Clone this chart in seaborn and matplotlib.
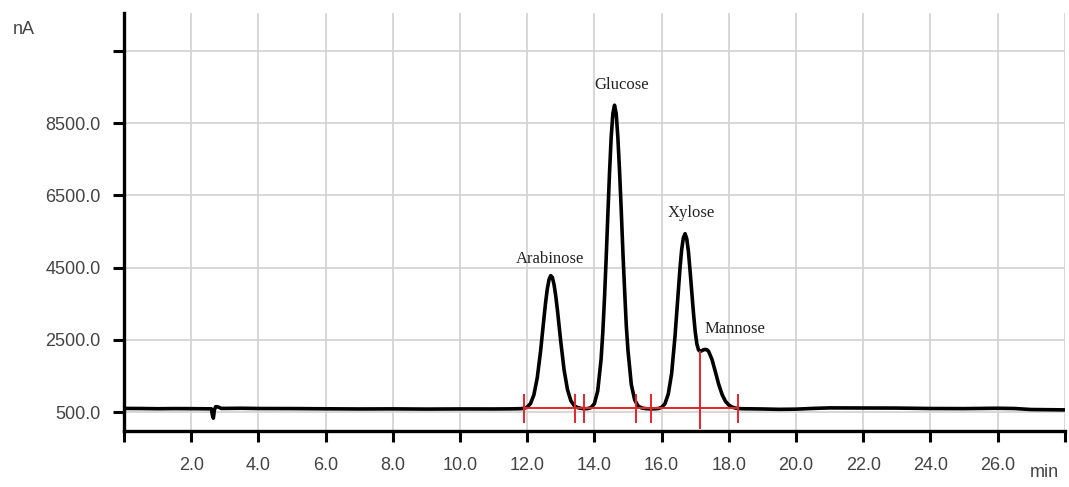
import matplotlib
matplotlib.use("Agg")
import matplotlib.pyplot as plt
import seaborn as sns
import pandas as pd

# chromatogram trace (min, nA)
t = [0.0, 0.5, 1.0, 1.5, 2.0, 2.5, 2.6, 2.63, 2.66, 2.69, 2.73, 2.8, 2.9, 3.5, 4.0, 5.0, 6.0, 7.0, 8.0, 9.0, 10.0, 11.0, 11.5,
     11.8, 11.9, 12.0, 12.1, 12.2, 12.3, 12.4, 12.5, 12.55, 12.6, 12.65, 12.7, 12.75, 12.8, 12.85, 12.9, 13.0, 13.1, 13.2, 13.3, 13.4, 13.5, 13.6,
     13.7, 13.8, 13.9, 14.0, 14.1, 14.2, 14.25, 14.3, 14.35, 14.4, 14.45, 14.5, 14.55, 14.6, 14.65, 14.7, 14.75, 14.8, 14.85, 14.9, 14.95,
     15.0, 15.1, 15.2, 15.3, 15.4, 15.5, 15.6, 15.7,
     15.8, 15.9, 16.0, 16.1, 16.2, 16.3, 16.4, 16.5, 16.55, 16.6, 16.65, 16.7, 16.75, 16.8, 16.85, 16.9, 16.95, 17.0, 17.05, 17.1, 17.15,
     17.2, 17.25, 17.3, 17.35, 17.4, 17.5, 17.6, 17.7, 17.8, 17.9, 18.0, 18.1, 18.2, 18.3, 18.4,
     19.0, 19.5, 20.0, 20.5, 21.0, 22.0, 23.0, 24.0, 25.0, 26.0, 26.5, 27.0, 28.0]
nA = [600, 598, 592, 596, 594, 590, 590, 420, 330, 560, 650, 640, 600, 605, 598, 596, 590, 585, 588, 582, 586, 585, 588,
      593, 603, 636, 736, 976, 1448, 2193, 3107, 3546, 3913, 4167, 4277, 4230, 4030, 3720, 3330, 2450, 1660, 1120, 815, 678, 624, 602,
      591, 596, 622, 731, 1084, 1961, 2688, 3623, 4730, 5934, 7107, 8098, 8766, 9000, 8766, 8098, 7170, 6092, 4913, 3881, 2899,
      2211, 1258, 836, 669, 615, 598, 590, 588,
      590, 596, 630, 727, 1000, 1570, 2595, 3865, 4500, 5010, 5330, 5440, 5300, 4940, 4400, 3820, 3240, 2740, 2390, 2220, 2180,
      2200, 2225, 2235, 2225, 2180, 1960, 1620, 1270, 990, 800, 695, 637, 610, 597, 592,
      585, 575, 580, 600, 615, 612, 610, 598, 595, 605, 598, 570, 560]

peak_names = ["Arabinose", "Glucose", "Xylose", "Mannose"]
label_x = [12.69, 14.8, 16.88, 18.18]
label_y = [4750, 9560, 6000, 2800]

# integration marks
events = [11.9, 13.42, 13.68, 15.25, 15.7, 18.27]
split_t = 17.13
split_top = 2190
base_level = 600

yticks = [500, 2500, 4500, 6500, 8500, 10500]
ytick_labels = ["500.0", "2500.0", "4500.0", "6500.0", "8500.0", ""]
xticks = list(range(0, 30, 2))
xtick_labels = [""] + ["%.1f" % v for v in xticks[1:-1]] + [""]

df = pd.DataFrame({"t": t, "nA": nA})

sns.set_style("white")
plt.rcParams["font.family"] = ["Liberation Sans", "DejaVu Sans"]

fig = plt.figure(figsize=(10.69, 4.87), dpi=100)
ax = fig.add_axes([0.116, 0.115, 0.88, 0.858])

sns.lineplot(data=df, x="t", y="nA", color="black", linewidth=2.6, estimator=None, sort=False, ax=ax, zorder=3)

red = "#e8232b"
ax.hlines(base_level, events[0], events[-1], color=red, linewidth=1.4, zorder=4)
ax.vlines(events, base_level - 390, base_level + 390, color=red, linewidth=1.4, zorder=4)
ax.vlines(split_t, 40, split_top, color=red, linewidth=1.4, zorder=4)

for name, lx, ly in zip(peak_names, label_x, label_y):
    ax.text(lx, ly, name, ha="center", va="center", fontsize=12, family="Liberation Serif", color="#222222")

ax.set_xlim(0, 28)
ax.set_ylim(-25, 11550)
ax.set_xticks(xticks)
ax.set_xticklabels(xtick_labels)
ax.set_yticks(yticks)
ax.set_yticklabels(ytick_labels)
ax.set_xlabel("")
ax.set_ylabel("")

ax.grid(True, color="#d4d4d4", linewidth=1.3)
ax.set_axisbelow(True)
for s in ["top", "right"]:
    ax.spines[s].set_visible(False)
for s in ["left", "bottom"]:
    ax.spines[s].set_color("black")
    ax.spines[s].set_linewidth(2.4)
ax.tick_params(axis="both", direction="out", length=8, width=2.2, color="black",
               labelsize=13, labelcolor="#444444", bottom=True, left=True)
ax.tick_params(axis="x", pad=11)
ax.tick_params(axis="y", pad=9)

fig.text(0.022, 0.94, "nA", fontsize=13, color="#444444", ha="center", va="center")
fig.text(0.977, 0.03, "min", fontsize=13, color="#444444", ha="center", va="center")

fig.savefig("out.png", dpi=100)
